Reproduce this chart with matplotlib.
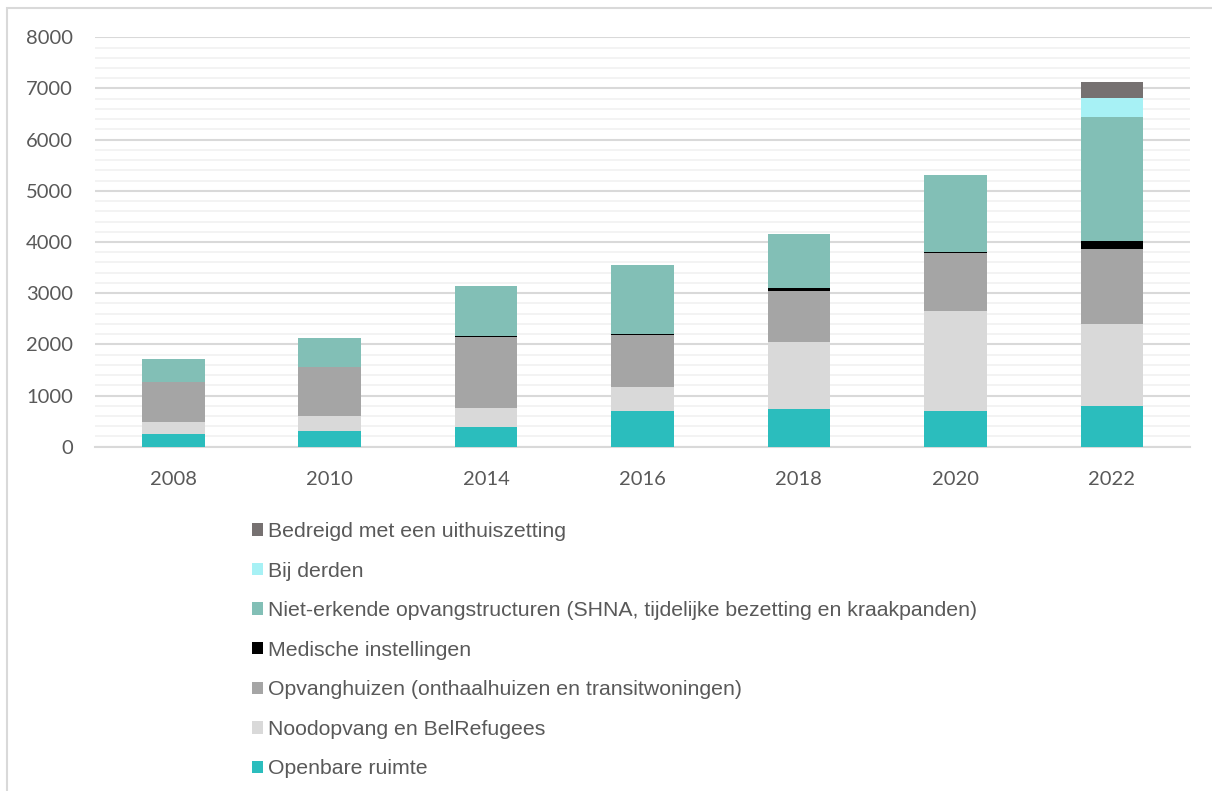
import matplotlib.pyplot as plt
import matplotlib.patches as mpatches
import numpy as np

years = ["2008", "2010", "2014", "2016", "2018", "2020", "2022"]

openbare_ruimte = [255, 305, 390, 700, 735, 705, 795]
noodopvang = [235, 295, 375, 465, 1320, 1940, 1600]
opvanghuizen = [780, 960, 1370, 1025, 990, 1135, 1465]
medische = [0, 0, 25, 10, 50, 25, 155]
niet_erkende = [440, 560, 975, 1345, 1060, 1495, 2430]
bij_derden = [0, 0, 0, 0, 0, 0, 365]
bedreigd = [0, 0, 0, 0, 0, 0, 310]

series = [
    ("Openbare ruimte", openbare_ruimte, "#2BBDBD"),
    ("Noodopvang en BelRefugees", noodopvang, "#D9D9D9"),
    ("Opvanghuizen (onthaalhuizen en transitwoningen)", opvanghuizen, "#A5A5A5"),
    ("Medische instellingen", medische, "#000000"),
    ("Niet-erkende opvangstructuren (SHNA, tijdelijke bezetting en kraakpanden)", niet_erkende, "#82BFB6"),
    ("Bij derden", bij_derden, "#A7F1F5"),
    ("Bedreigd met een uithuiszetting", bedreigd, "#767171"),
]

text_col = "#595959"

fig = plt.figure(figsize=(12.12, 7.91), dpi=100)
ax = fig.add_axes([95 / 1212, 1 - 446.7 / 791, 1095 / 1212, 409.4 / 791])

x = np.arange(len(years))
bottom = np.zeros(len(years))
handles = []
for label, vals, col in series:
    vals = np.array(vals, dtype=float)
    b = ax.bar(x, vals, 0.4, bottom=bottom, color=col, label=label, zorder=3)
    handles.append(b)
    bottom += vals

ax.set_xlim(-0.5, len(years) - 0.5)
ax.set_ylim(0, 8000)
ax.set_yticks(np.arange(0, 8001, 1000))
ax.set_yticks(np.arange(0, 8001, 200), minor=True)
ax.set_xticks(x)
ax.set_xticklabels(years)

ax.grid(axis="y", which="minor", color="#F2F2F2", lw=1.3, zorder=0)
ax.grid(axis="y", which="major", color="#D9D9D9", lw=1.5, zorder=1)
ax.tick_params(which="both", length=0)
ax.tick_params(axis="x", pad=17.5)
ax.tick_params(axis="y", pad=16)
for lab in ax.get_xticklabels() + ax.get_yticklabels():
    lab.set_fontfamily("Lato")
    lab.set_fontsize(14.5)
    lab.set_color(text_col)
for s in ["top", "right", "left"]:
    ax.spines[s].set_visible(False)
ax.spines["bottom"].set_color("#D9D9D9")
ax.spines["bottom"].set_linewidth(1.5)

leg = fig.legend(handles[::-1], [s[0] for s in series][::-1],
                 loc="upper left", bbox_to_anchor=(252 / 1212, 1 - 522 / 791),
                 frameon=False, borderpad=0, borderaxespad=0,
                 handlelength=0.52, handleheight=0.52, handletextpad=0.22,
                 labelspacing=0.965,
                 prop={"family": "Liberation Sans", "size": 15.35})
for t in leg.get_texts():
    t.set_color(text_col)

border = mpatches.Rectangle((7 / 1212, -0.1), 1.2, 1.1 - 8 / 791, transform=fig.transFigure,
                            fill=False, edgecolor="#D9D9D9", lw=1.5)
fig.patches.append(border)

fig.savefig("out.png", dpi=100)
